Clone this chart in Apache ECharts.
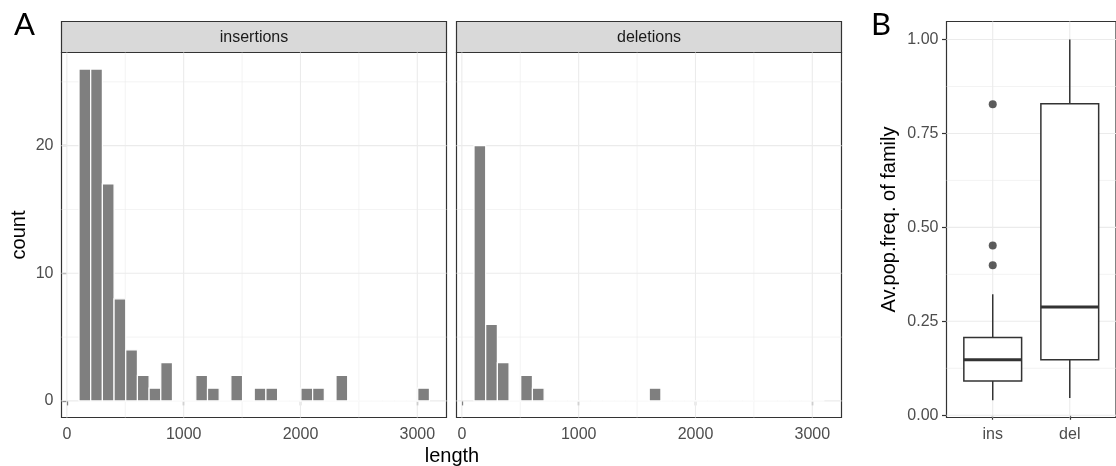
<!DOCTYPE html>
<html>
<head>
<meta charset="utf-8">
<script src="https://cdn.jsdelivr.net/npm/echarts@6/dist/echarts.min.js"></script>
<style>
  html, body { margin: 0; padding: 0; background: #fff; }
  #main { width: 1116px; height: 466px; }
</style>
</head>
<body>
<div id="main"></div>
<script>
// histogram bins (length), shared by both facets
const binEdges = [104, 204, 304, 404, 504, 604, 704, 804, 904, 1004, 1104, 1204, 1304, 1404, 1504,
    1604, 1704, 1804, 1904, 2004, 2104, 2204, 2304, 2404, 2504, 2604, 2704, 2804, 2904, 3004, 3104];
const insCounts = [26, 26, 17, 8, 4, 2, 1, 3, 0, 0, 2, 1, 0, 2, 0, 1, 1, 0, 0, 1, 1, 0, 2, 0, 0, 0, 0, 0, 0, 1];
const delCounts = [20, 6, 3, 0, 2, 1, 0, 0, 0, 0, 0, 0, 0, 0, 0, 1, 0, 0, 0, 0, 0, 0, 0, 0, 0, 0, 0, 0, 0, 0];
const facetNames = ['insertions', 'deletions'];

const lenTicks = [0, 1000, 2000, 3000];
const lenMinor = [500, 1500, 2500];
const countTicks = [0, 10, 20];
const countMinor = [5, 15, 25];

// boxplot B: [lower whisker, Q1, median, Q3, upper whisker]
const boxCats = ['ins', 'del'];
const boxStats = [
    [0.040, 0.091, 0.148, 0.207, 0.322],
    [0.046, 0.148, 0.288, 0.829, 1.000]
];
const insOutliers = [0.828, 0.452, 0.399];
const freqTicks = [0, 0.25, 0.5, 0.75, 1.0];
const freqMinor = [0.125, 0.375, 0.625, 0.875];

const FONT = 'Liberation Sans';
const DARK = '#333333';
const GRIDC = '#ebebeb';

const chart = echarts.init(document.getElementById('main'), null, { renderer: 'canvas' });

function gridLines(values, vertical, width, axisIdx) {
    return {
        type: 'custom',
        xAxisIndex: axisIdx,
        yAxisIndex: axisIdx,
        z: 1,
        silent: true,
        data: values.map(v => [v, v]),
        encode: { x: 0, y: 1 },
        renderItem: (params, api) => {
            const cs = params.coordSys;
            const v = api.value(0);
            if (vertical) {
                const x = api.coord([v, 0])[0];
                return { type: 'line', shape: { x1: x, y1: cs.y, x2: x, y2: cs.y + cs.height },
                    style: { stroke: GRIDC, lineWidth: width } };
            }
            const y = api.coord([0, v])[1];
            return { type: 'line', shape: { x1: cs.x, y1: y, x2: cs.x + cs.width, y2: y },
                style: { stroke: GRIDC, lineWidth: width } };
        }
    };
}

function histSeries(counts, axisIdx) {
    return {
        type: 'custom',
        xAxisIndex: axisIdx,
        yAxisIndex: axisIdx,
        z: 3,
        data: counts.map((c, i) => [binEdges[i], binEdges[i + 1], c]),
        encode: { x: [0, 1], y: 2 },
        renderItem: (params, api) => {
            const p0 = api.coord([api.value(0), 0]);
            const p1 = api.coord([api.value(1), api.value(2)]);
            return {
                type: 'rect',
                shape: { x: p0[0], y: p1[1], width: p1[0] - p0[0], height: p0[1] - p1[1] },
                style: { fill: '#7f7f7f', stroke: '#ffffff', lineWidth: 1.2 }
            };
        }
    };
}

function boxSeries() {
    return {
        type: 'custom',
        xAxisIndex: 2,
        yAxisIndex: 2,
        z: 3,
        data: boxStats.map((s, i) => [i + 1].concat(s)),
        encode: { x: 0, y: [1, 2, 3, 4, 5] },
        renderItem: (params, api) => {
            const x = api.value(0);
            const c = (v) => api.coord([x, v]);
            const lo = c(api.value(1)), q1 = c(api.value(2)), md = c(api.value(3)),
                q3 = c(api.value(4)), hi = c(api.value(5));
            const left = api.coord([x - 0.375, 0])[0];
            const right = api.coord([x + 0.375, 0])[0];
            const ls = { stroke: DARK, lineWidth: 1.5 };
            return {
                type: 'group',
                children: [
                    { type: 'line', shape: { x1: lo[0], y1: lo[1], x2: q1[0], y2: q1[1] }, style: ls },
                    { type: 'line', shape: { x1: q3[0], y1: q3[1], x2: hi[0], y2: hi[1] }, style: ls },
                    { type: 'rect', shape: { x: left, y: q3[1], width: right - left, height: q1[1] - q3[1] },
                        style: { fill: '#ffffff', stroke: DARK, lineWidth: 1.5 } },
                    { type: 'line', shape: { x1: left, y1: md[1], x2: right, y2: md[1] },
                        style: { stroke: DARK, lineWidth: 3 } }
                ]
            };
        }
    };
}

function valueAxis(gridIndex, min, max, ticks, fmt, showLabels) {
    return {
        type: 'value',
        gridIndex: gridIndex,
        min: min,
        max: max,
        axisLine: { show: false },
        splitLine: { show: false },
        axisTick: { show: showLabels, customValues: ticks, length: 4.5, lineStyle: { color: DARK, width: 1.2 } },
        axisLabel: {
            show: showLabels, customValues: ticks, formatter: fmt,
            color: '#4d4d4d', fontSize: 16, fontFamily: FONT, margin: 8
        }
    };
}

const xAxes = [
    valueAxis(0, -46, 3250, lenTicks, v => String(v), true),
    valueAxis(1, -46, 3250, lenTicks, v => String(v), true),
    valueAxis(2, 0.4, 2.6, [1, 2], v => boxCats[Math.round(v) - 1], true)
];
xAxes.forEach(a => { a.axisLabel.margin = 9; });
const yAxes = [
    valueAxis(0, -1.3, 27.3, countTicks, v => String(v), true),
    valueAxis(1, -1.3, 27.3, countTicks, v => String(v), false),
    valueAxis(2, -0.006, 1.048, freqTicks, v => v.toFixed(2), true)
];
yAxes[0].name = 'count';
yAxes[0].nameLocation = 'middle';
yAxes[0].nameGap = 32;
yAxes[0].nameTextStyle = { fontSize: 20, fontFamily: FONT, color: '#000' };
yAxes[2].name = 'Av.pop.freq. of family';
yAxes[2].nameLocation = 'middle';
yAxes[2].nameGap = 47;
yAxes[2].nameTextStyle = { fontSize: 20, fontFamily: FONT, color: '#000' };

const panelBox = [
    { left: 61.5, top: 52.5, width: 385, height: 365 },
    { left: 456.5, top: 52.5, width: 385, height: 365 },
    { left: 946.5, top: 21.5, width: 180, height: 396 }
];

const strips = [];
facetNames.forEach((name, i) => {
    const g = panelBox[i];
    strips.push({
        type: 'rect', silent: true,
        shape: { x: g.left, y: 21.5, width: g.width, height: 31 },
        style: { fill: '#d9d9d9', stroke: DARK, lineWidth: 1.2 }
    });
    strips.push({
        type: 'text', silent: true,
        x: g.left + g.width / 2, y: 37.5,
        style: { text: name, fill: '#1a1a1a', font: '16px "' + FONT + '"', align: 'center', verticalAlign: 'middle' }
    });
});

const option = {
    animation: false,
    backgroundColor: '#ffffff',
    grid: panelBox.map(g => Object.assign({
        show: true, backgroundColor: '#ffffff', borderColor: DARK, borderWidth: 1.2, containLabel: false
    }, g)),
    xAxis: xAxes,
    yAxis: yAxes,
    graphic: strips.concat([
        { type: 'text', silent: true, x: 452, y: 456,
          style: { text: 'length', fill: '#000', font: '20px "' + FONT + '"', align: 'center', verticalAlign: 'middle' } },
        { type: 'text', silent: true, x: 24.5, y: 25,
          style: { text: 'A', fill: '#000', font: '31px Lato', align: 'center', verticalAlign: 'middle' } },
        { type: 'text', silent: true, x: 881, y: 25,
          style: { text: 'B', fill: '#000', font: '31px Lato', align: 'center', verticalAlign: 'middle' } }
    ]),
    series: [
        gridLines(lenMinor, true, 0.6, 0),
        gridLines(countMinor, false, 0.6, 0),
        gridLines(lenTicks, true, 1.1, 0),
        gridLines(countTicks, false, 1.1, 0),
        gridLines(lenMinor, true, 0.6, 1),
        gridLines(countMinor, false, 0.6, 1),
        gridLines(lenTicks, true, 1.1, 1),
        gridLines(countTicks, false, 1.1, 1),
        gridLines(freqMinor, false, 0.6, 2),
        gridLines([1, 2], true, 1.1, 2),
        gridLines(freqTicks, false, 1.1, 2),
        histSeries(insCounts, 0),
        histSeries(delCounts, 1),
        boxSeries(),
        {
            type: 'scatter',
            xAxisIndex: 2,
            yAxisIndex: 2,
            z: 4,
            symbolSize: 8,
            itemStyle: { color: DARK },
            data: insOutliers.map(v => [1, v])
        }
    ]
};

chart.setOption(option);
</script>
</body>
</html>
